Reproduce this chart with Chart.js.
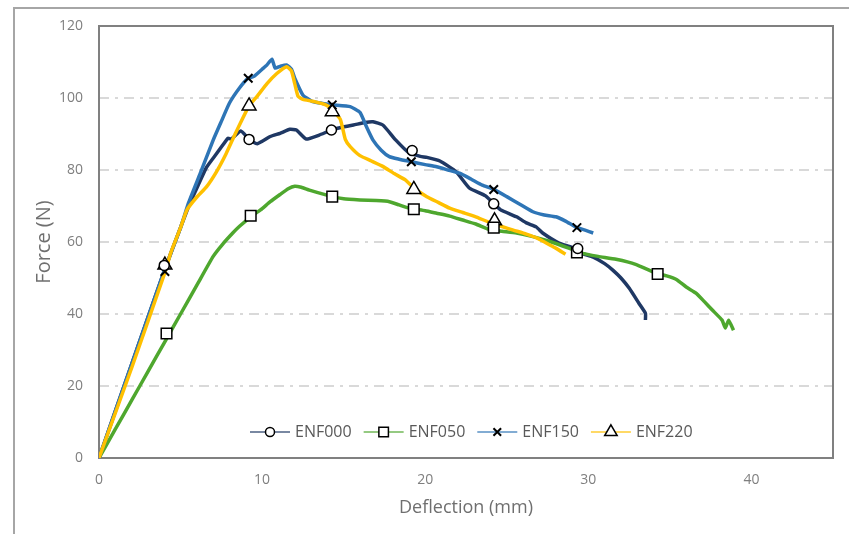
<!DOCTYPE html>
<html>
<head>
<meta charset="utf-8">
<script src="https://cdn.jsdelivr.net/npm/chart.js@4.4.1/dist/chart.umd.min.js"></script>
<style>
  body { margin: 0; overflow: hidden; background: #fff; }
  #frame { position: absolute; left: 13px; top: 7px; width: 1000px; height: 700px; border: 2px solid #a6a6a6; }
  #myChart { position: absolute; left: 0; top: 0; }
</style>
</head>
<body>
<div id="frame"></div>
<canvas id="myChart" width="849" height="534"></canvas>
<script>
// curve data: deflection (mm) / force (N)
const x000 = [0, 2, 4, 5, 5.5, 6.0, 6.6, 7.2, 7.6, 7.9, 8.1, 8.7, 9.2, 9.7, 10.5, 11.1, 11.7, 12.1, 12.7, 13.5, 14.25, 15.0, 15.6, 16.3, 16.8, 17.4, 18.2, 19.0, 19.7, 20.1, 20.9, 21.9, 22.7, 23.7, 24.6, 25.6, 26.2, 26.8, 27.2, 28.2, 29.0, 29.5, 30.3, 31.0, 31.5, 32.0, 32.5, 33.1, 33.5, 33.5];
const y000 = [0, 26, 52, 64, 70, 75, 80.8, 84.5, 87, 88.8, 88.6, 90.8, 88.5, 87.3, 89.3, 90.2, 91.3, 91.1, 88.6, 89.7, 91.1, 92, 92.5, 93.2, 93.4, 92.5, 88.3, 84.8, 83.8, 83.5, 82.5, 79.5, 75, 72.8, 69, 67, 65.3, 64.2, 62.5, 59.7, 58.5, 57, 55.8, 54, 52.2, 50, 47.2, 43, 40.2, 38.3];

const x050 = [0, 1, 2, 3, 4, 5, 6, 7, 7.6, 8.2, 8.6, 9.25, 9.9, 10.5, 11.1, 11.6, 12.0, 12.4, 12.9, 14.3, 15.0, 16.0, 17.0, 17.8, 18.4, 19.0, 20.0, 20.7, 21.5, 22.3, 23.1, 23.9, 24.7, 25.6, 26.6, 27.6, 28.8, 29.6, 30.6, 31.7, 32.9, 34.1, 34.8, 35.4, 36.0, 36.6, 37.1, 37.6, 38.2, 38.4, 38.6, 38.9];
const y050 = [0, 8, 16, 24, 32, 40, 48, 56, 59.5, 62.5, 64.3, 66.8, 68.9, 71.2, 73.2, 74.8, 75.5, 75.2, 74.4, 72.6, 72, 71.7, 71.5, 71.2, 70.3, 69.4, 68.7, 68, 67.2, 66.1, 65, 63.5, 63, 62.5, 61.5, 60.2, 58.3, 56.9, 56, 55.2, 53.8, 51.4, 50.6, 49.6, 47.5, 45.8, 43.5, 41.1, 38.3, 36.1, 38.3, 35.5];

const x150 = [0, 2, 4, 5, 5.5, 6.2, 7.0, 7.5, 8.0, 8.6, 9.15, 9.5, 10.0, 10.3, 10.6, 10.8, 11.1, 11.5, 11.8, 12.0, 12.5, 12.8, 13.1, 13.7, 14.3, 15.4, 16.0, 16.4, 16.8, 17.3, 17.8, 18.4, 19.15, 20.0, 20.7, 21.4, 22.1, 22.8, 23.5, 24.2, 25.0, 25.8, 26.6, 27.3, 28.0, 28.6, 29.3, 29.8, 30.3];
const y150 = [0, 26, 52, 64, 71, 79, 88.3, 93.5, 98.6, 102.7, 105.5, 106, 108, 109.2, 110.8, 108.3, 108.8, 109.2, 108, 105.5, 100.8, 99.8, 99, 98.5, 98.1, 97.6, 96, 92, 88.3, 85.5, 83.7, 83, 82.3, 81.5, 80.9, 80, 79.1, 77.5, 75.8, 74.6, 72.6, 70.5, 68.4, 67.5, 67, 65.8, 64.0, 63.3, 62.5];

const x220 = [0, 2, 4, 4.4, 5.0, 5.4, 6.0, 6.6, 7.2, 7.8, 8.4, 9.2, 9.7, 10.3, 10.9, 11.5, 11.8, 12.0, 12.2, 12.5, 13.1, 13.9, 14.3, 14.8, 15.1, 15.4, 16.0, 16.7, 17.4, 18.1, 18.8, 19.3, 20.1, 20.8, 21.5, 22.3, 23.1, 23.9, 24.7, 25.4, 26.2, 26.9, 27.5, 28.0, 28.6];
const y220 = [0, 25, 51, 57, 64, 69, 72.5, 75.4, 79.5, 84.6, 90.5, 97.8, 100.5, 104, 106.8, 108.7, 107.5, 104, 100.5, 99.6, 99.1, 98.1, 96.8, 94, 88.5, 86.5, 84, 82.5, 81, 79, 77.2, 75, 72.6, 71, 69.4, 68.2, 67, 65.5, 64.3, 63.3, 62.2, 61, 59.5, 58.3, 56.6];

// marker points (every ~5 mm)
const mx000 = [4.0, 9.2, 14.25, 19.2, 24.2, 29.35];
const my000 = [53.5, 88.5, 91.1, 85.4, 70.6, 58.2];
const mx050 = [4.14, 9.3, 14.3, 19.3, 24.2, 29.3, 34.25];
const my050 = [34.6, 67.3, 72.6, 69.1, 64.0, 57.1, 51.1];
const mx150 = [4.04, 9.15, 14.3, 19.15, 24.2, 29.3];
const my150 = [51.8, 105.5, 98.1, 82.3, 74.6, 64.0];
const mx220 = [4.04, 9.2, 14.3, 19.3, 24.25];
const my220 = [53.6, 97.8, 96.2, 74.6, 65.9];

const nomes = ['ENF000', 'ENF050', 'ENF150', 'ENF220'];
const cores = ['#1f3864', '#4ea72e', '#2e75b6', '#ffc000'];
const estilos = ['circle', 'rect', 'crossRot', 'triangle'];
const raios = [5, 7.5, 6, 8];

function pares(xs, ys)
{
  var out = [];
  for(var i = 0 ; i < xs.length ; i++)
  {
    out.push({x: xs[i], y: ys[i]});
  }
  return out;
}

const linhas = [pares(x000, y000), pares(x050, y050), pares(x150, y150), pares(x220, y220)];
const marcas = [pares(mx000, my000), pares(mx050, my050), pares(mx150, my150), pares(mx220, my220)];

var datasets = [];
for(var i = 0 ; i < 4 ; i++)
{
  datasets.push({
    label: nomes[i],
    data: linhas[i],
    borderColor: cores[i],
    borderWidth: 3.5,
    pointRadius: 0,
    tension: 0.15,
    fill: false,
    order: 10 - i
  });
}
for(var i = 0 ; i < 4 ; i++)
{
  datasets.push({
    label: nomes[i] + ' marks',
    data: marcas[i],
    showLine: false,
    pointStyle: estilos[i],
    pointRadius: raios[i],
    pointBackgroundColor: '#ffffff',
    pointBorderColor: '#000000',
    pointBorderWidth: estilos[i] == 'crossRot' ? 2 : 1.5,
    order: 0
  });
}

// plot box border
const caixa = {
  id: 'caixa',
  beforeDatasetsDraw(chart)
  {
    const a = chart.chartArea;
    const c = chart.ctx;
    c.save();
    c.strokeStyle = '#808080';
    c.lineWidth = 2;
    c.strokeRect(a.left, a.top, a.right - a.left, a.bottom - a.top);
    c.restore();
  }
};

function marcador(c, estilo, x, y, r)
{
  c.beginPath();
  if(estilo == 'circle')
  {
    c.arc(x, y, r, 0, Math.PI * 2);
  }
  else if(estilo == 'rect')
  {
    var s = r * Math.SQRT1_2;
    c.rect(x - s, y - s, 2 * s, 2 * s);
  }
  else if(estilo == 'triangle')
  {
    c.moveTo(x, y - r);
    c.lineTo(x + r * 0.866, y + r * 0.5);
    c.lineTo(x - r * 0.866, y + r * 0.5);
    c.closePath();
  }
  if(estilo == 'crossRot')
  {
    var d = r * Math.SQRT1_2;
    c.lineWidth = 2;
    c.moveTo(x - d, y - d); c.lineTo(x + d, y + d);
    c.moveTo(x + d, y - d); c.lineTo(x - d, y + d);
    c.stroke();
    return;
  }
  c.fillStyle = '#ffffff';
  c.fill();
  c.lineWidth = 1.5;
  c.stroke();
}

// legend inside the plot: short line with marker, then name
const legenda = {
  id: 'legenda',
  afterDraw(chart)
  {
    const c = chart.ctx;
    c.save();
    c.font = '16px "Open Sans"';
    c.textBaseline = 'middle';
    var x = 250;
    const y = 432;
    for(var i = 0 ; i < 4 ; i++)
    {
      c.strokeStyle = cores[i];
      c.globalAlpha = 0.6;
      c.lineWidth = 2;
      c.beginPath();
      c.moveTo(x, y);
      c.lineTo(x + 40, y);
      c.stroke();
      c.globalAlpha = 1;
      c.strokeStyle = '#000000';
      marcador(c, estilos[i], x + 20, y, raios[i] * 0.9);
      c.fillStyle = '#595959';
      c.fillText(nomes[i], x + 45, y);
      x += 45 + c.measureText(nomes[i]).width + 12;
    }
    c.restore();
  }
};

var ctx = document.getElementById('myChart').getContext('2d');
chart = new Chart(ctx, {
  type: 'line',
  data: { datasets: datasets },
  options:
  {
    responsive: false,
    devicePixelRatio: 1,
    animation: false,
    layout: { padding: { left: 0, top: 26, right: 16, bottom: 0 } },
    plugins:
    {
      legend: { display: false },
      tooltip: { enabled: false }
    },
    scales:
    {
      x:
      {
        type: 'linear',
        min: 0,
        max: 45,
        afterFit: function(s) { s.height = 76; },
        grid: { display: false, drawTicks: false },
        border: { display: false },
        ticks:
        {
          stepSize: 10,
          includeBounds: false,
          padding: 14,
          color: '#7f7f7f',
          font: { family: 'Open Sans', size: 14 }
        },
        title:
        {
          display: true,
          text: 'Deflection (mm)',
          color: '#6f6f6f',
          font: { family: 'Open Sans', size: 18 },
          padding: { top: 0, bottom: 15 }
        }
      },
      y:
      {
        min: 0,
        max: 120,
        afterFit: function(s) { s.width = 99; },
        grid:
        {
          drawTicks: false,
          lineWidth: 2,
          color: function(c) { return (c.tick && (c.tick.value == 0 || c.tick.value == 120)) ? 'rgba(0,0,0,0)' : '#d9d9d9'; }
        },
        border: { display: false, dash: [10, 6, 3, 6] },
        ticks:
        {
          stepSize: 20,
          padding: 16,
          color: '#7f7f7f',
          font: { family: 'Open Sans', size: 14 }
        },
        title:
        {
          display: true,
          text: 'Force (N)',
          color: '#6f6f6f',
          font: { family: 'Open Sans', size: 20 },
          padding: { top: 32, bottom: 0 }
        }
      }
    }
  },
  plugins: [caixa, legenda]
});
</script>
</body>
</html>
